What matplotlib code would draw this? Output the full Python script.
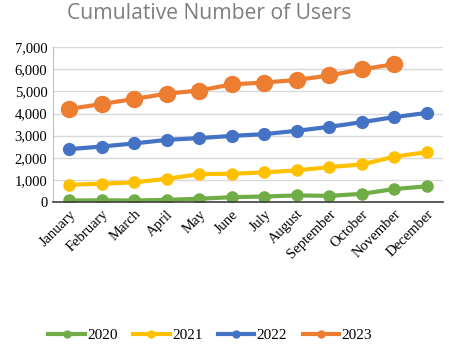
import matplotlib.pyplot as plt
from matplotlib.lines import Line2D

months = ["January", "February", "March", "April", "May", "June", "July",
          "August", "September", "October", "November", "December"]
users_2020 = [70, 80, 70, 100, 150, 220, 250, 300, 280, 370, 590, 710]
users_2021 = [780, 830, 890, 1050, 1260, 1280, 1340, 1430, 1580, 1700, 2050, 2260]
users_2022 = [2390, 2510, 2650, 2810, 2890, 2990, 3070, 3220, 3400, 3610, 3840, 4030]
users_2023 = [4210, 4430, 4660, 4900, 5040, 5320, 5400, 5520, 5720, 6000, 6230]

colors = {"2020": "#70AD47", "2021": "#FFC000", "2022": "#4472C4", "2023": "#ED7D31"}

fig = plt.figure(figsize=(4.49, 3.52), dpi=100)
ax = fig.add_axes([0.118, 0.426, 0.869, 0.44])

serif = "Liberation Serif"
x = range(len(months))
ax.plot(x, users_2020, color=colors["2020"], lw=3, marker="o", ms=8)
ax.plot(x, users_2021, color=colors["2021"], lw=3, marker="o", ms=8)
ax.plot(x, users_2022, color=colors["2022"], lw=3, marker="o", ms=8.5)
ax.plot(range(len(users_2023)), users_2023, color=colors["2023"], lw=3, marker="o", ms=11.5)

ax.set_xlim(-0.5, 11.5)
ax.set_ylim(0, 7000)
ax.set_yticks(range(0, 7001, 1000))
ax.set_yticklabels([f"{v:,}" for v in range(0, 7001, 1000)], family=serif, fontsize=10.5)
ax.set_xticks(list(x))
ax.set_xticklabels(months, rotation=45, ha="right", rotation_mode="anchor",
                   family=serif, fontsize=10.5)
ax.tick_params(length=0, pad=4)
ax.grid(axis="y", color="#d9d9d9", lw=1)
ax.set_axisbelow(True)
for s in ["top", "right"]:
    ax.spines[s].set_visible(False)
ax.spines["left"].set_color("#bfbfbf")
ax.spines["bottom"].set_color("#404040")
ax.spines["bottom"].set_linewidth(1.2)

fig.text(0.149, 0.962, "Cumulative Number of Users", fontsize=15.2, color="#7f7f7f",
         family="Open Sans", va="center")

handles = [Line2D([], [], color=c, lw=3, marker="o", ms=5) for c in colors.values()]
fig.legend(handles, list(colors.keys()), loc="center", bbox_to_anchor=(0.468, 0.048),
           ncol=4, frameon=False, prop={"family": serif, "size": 11},
           handlelength=2.4, handletextpad=0.15, columnspacing=1.0)

fig.savefig("out.png", dpi=100)
